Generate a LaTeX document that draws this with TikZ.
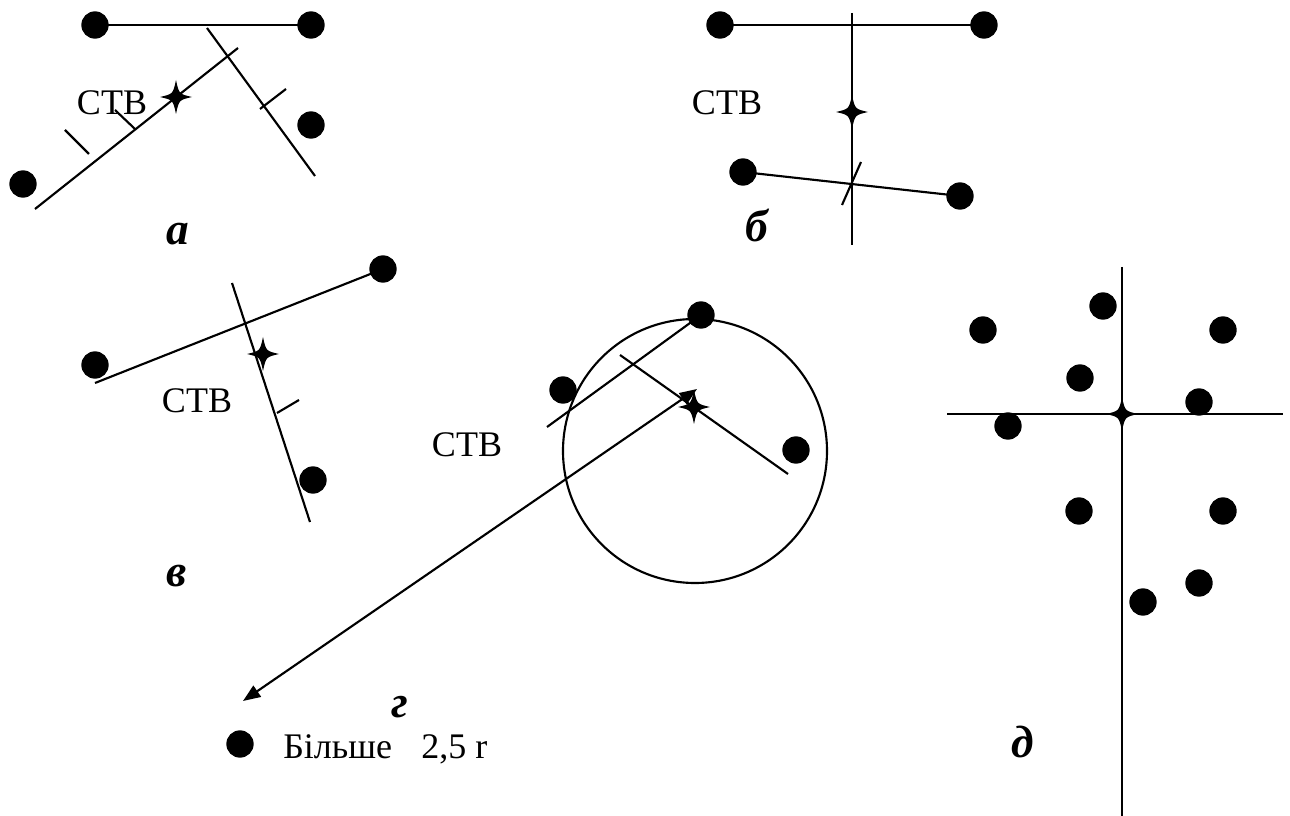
\documentclass[tikz,border=0pt]{standalone}
\usepackage{fontspec}
\setmainfont{Liberation Serif}
\usetikzlibrary{arrows.meta}
\begin{document}
\begin{tikzpicture}[x=0.75pt,y=-0.75pt,
  dot/.style={circle,fill=black,inner sep=0pt,minimum size=20.5pt},
  ln/.style={line width=1.6pt},
  lbl/.style={font=\fontsize{27}{31}\selectfont,inner sep=0pt,anchor=base},
  panelcap/.style={font=\fontsize{34}{38}\selectfont\bfseries\itshape,inner sep=0pt,anchor=base},
  cstar/.pic={\fill (0,-17) .. controls (3,-3) .. (16,0) .. controls (3,3) .. (0,17) .. controls (-3,3) .. (-16,0) .. controls (-3,-3) .. cycle;},
  arr/.style={ln,{Triangle[length=13pt,width=10pt]}-{Triangle[length=13pt,width=10pt]}}
]
\useasboundingbox (0,0) rectangle (1290,816);

% ---------- panel a
\node[dot] (a1) at (95,25) {};
\node[dot] (a2) at (311,25) {};
\node[dot] (a3) at (311,125) {};
\node[dot] (a4) at (23,184) {};
\draw[ln] (a1.center) -- (a2.center);
\coordinate (aL1) at (35,209); \coordinate (aL2) at (238,48);
\draw[ln] (aL1) -- (aL2);
\coordinate (aM1) at (207,28); \coordinate (aM2) at (315,176);
\draw[ln] (aM1) -- (aM2);
\coordinate (at1a) at (115,110); \coordinate (at1b) at (135,129);
\draw[ln] (at1a) -- (at1b);
\coordinate (at2a) at (65,130); \coordinate (at2b) at (89,154);
\draw[ln] (at2a) -- (at2b);
\coordinate (at3a) at (260,109); \coordinate (at3b) at (286,89);
\draw[ln] (at3a) -- (at3b);
\pic at (176,97) {cstar};
\node[lbl] (aT) at (112,115) {СТВ};
\node[panelcap] (aC) at (178,245) {а};

% ---------- panel b
\node[dot] (b1) at (720,25) {};
\node[dot] (b2) at (984,25) {};
\node[dot] (b3) at (743,172) {};
\node[dot] (b4) at (960,196) {};
\draw[ln] (b1.center) -- (b2.center);
\draw[ln] (b3.center) -- (b4.center);
\coordinate (bV1) at (852,13); \coordinate (bV2) at (852,245);
\draw[ln] (bV1) -- (bV2);
\coordinate (bt1) at (842,205); \coordinate (bt2) at (861,162);
\draw[ln] (bt1) -- (bt2);
\pic at (852,112) {cstar};
\node[lbl] (bT) at (727,115) {СТВ};
\node[panelcap] (bC) at (757,242) {б};

% ---------- panel v
\node[dot] (v1) at (383,269) {};
\node[dot] (v2) at (95,365) {};
\node[dot] (v3) at (313,480) {};
\coordinate (vL1) at (95,383);
\draw[ln] (vL1) -- (v1.center);
\coordinate (vM1) at (232,283); \coordinate (vM2) at (310,522);
\draw[ln] (vM1) -- (vM2);
\coordinate (vt1) at (277,413); \coordinate (vt2) at (299,400);
\draw[ln] (vt1) -- (vt2);
\pic at (263,354) {cstar};
\node[lbl] (vT) at (197,413) {СТВ};
\node[panelcap] (vC) at (177,587) {в};

% ---------- panel g
\draw[ln] (695,451) circle[radius=132];
\node[dot] (g1) at (701,315) {};
\node[dot] (g2) at (563,390) {};
\node[dot] (g3) at (796,450) {};
\coordinate (gL1) at (547,427);
\draw[ln] (gL1) -- (g1.center);
\coordinate (gM1) at (620,355); \coordinate (gM2) at (788,474);
\draw[ln] (gM1) -- (gM2);
\pic at (694,407) {cstar};
\coordinate (gA1) at (243,701); \coordinate (gA2) at (697,389);
\draw[arr] (gA1) -- (gA2);
\node[lbl] (gT) at (467,457) {СТВ};
\node[panelcap] (gC) at (400,717) {г};
\node[dot] (g4) at (240,744) {};
\node[lbl,anchor=base west] (gN) at (283,758) {Більше\hspace{22pt}2,5 r};

% ---------- panel d
\coordinate (dV1) at (1122,267); \coordinate (dV2) at (1122,816);
\draw[ln] (dV1) -- (dV2);
\coordinate (dH1) at (947,414); \coordinate (dH2) at (1283,414);
\draw[ln] (dH1) -- (dH2);
\pic at (1122,414) {cstar};
\node[dot] (d1) at (983,330) {};
\node[dot] (d2) at (1103,306) {};
\node[dot] (d3) at (1223,330) {};
\node[dot] (d4) at (1080,378) {};
\node[dot] (d5) at (1199,402) {};
\node[dot] (d6) at (1008,426) {};
\node[dot] (d7) at (1079,511) {};
\node[dot] (d8) at (1223,511) {};
\node[dot] (d9) at (1199,583) {};
\node[dot] (d10) at (1143,602) {};
\node[panelcap] (dC) at (1023,757) {д};
\end{tikzpicture}
\end{document}
